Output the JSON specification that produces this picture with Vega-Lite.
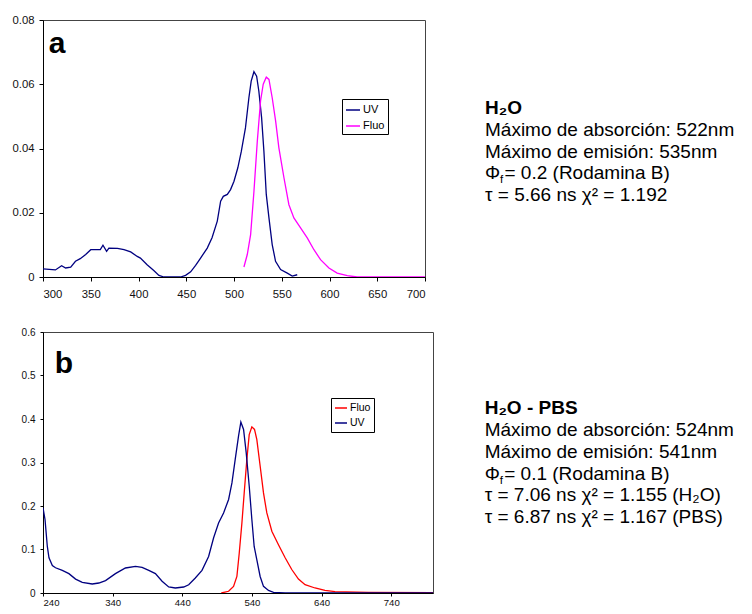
{
  "$schema": "https://vega.github.io/schema/vega-lite/v6.json",
  "background": "white",
  "padding": {"left": 11, "top": 13, "right": 0, "bottom": 0},
  "config": {
    "font": "Liberation Sans",
    "view": {"stroke": "#444"},
    "axis": {"grid": false, "domainColor": "black", "tickColor": "black", "labelColor": "#111", "labelFont": "Liberation Sans", "title": null}
  },
  "datasets": {
    "specA": [
      {"nm": 300, "v": 0.0025, "s": "UV"}, {"nm": 313, "v": 0.0022, "s": "UV"}, {"nm": 319.5, "v": 0.0035, "s": "UV"}, {"nm": 323.7, "v": 0.0028, "s": "UV"},
      {"nm": 329, "v": 0.0031, "s": "UV"}, {"nm": 334, "v": 0.0049, "s": "UV"}, {"nm": 339, "v": 0.0057, "s": "UV"}, {"nm": 344.7, "v": 0.007, "s": "UV"},
      {"nm": 350, "v": 0.0085, "s": "UV"}, {"nm": 360, "v": 0.0085, "s": "UV"}, {"nm": 362.8, "v": 0.0099, "s": "UV"}, {"nm": 366.6, "v": 0.008, "s": "UV"},
      {"nm": 369, "v": 0.009, "s": "UV"}, {"nm": 378, "v": 0.0089, "s": "UV"}, {"nm": 384.8, "v": 0.0085, "s": "UV"}, {"nm": 391.8, "v": 0.0078, "s": "UV"},
      {"nm": 398.7, "v": 0.0064, "s": "UV"}, {"nm": 402, "v": 0.0059, "s": "UV"}, {"nm": 409, "v": 0.0038, "s": "UV"}, {"nm": 416, "v": 0.002, "s": "UV"},
      {"nm": 421.4, "v": 0.0005, "s": "UV"}, {"nm": 426.7, "v": 0, "s": "UV"}, {"nm": 433.6, "v": 0, "s": "UV"}, {"nm": 444, "v": 0, "s": "UV"},
      {"nm": 449.3, "v": 0.0005, "s": "UV"}, {"nm": 454.6, "v": 0.0016, "s": "UV"}, {"nm": 459.8, "v": 0.0036, "s": "UV"}, {"nm": 465, "v": 0.0059, "s": "UV"},
      {"nm": 472, "v": 0.009, "s": "UV"}, {"nm": 477, "v": 0.0122, "s": "UV"}, {"nm": 482.5, "v": 0.0174, "s": "UV"}, {"nm": 486, "v": 0.0236, "s": "UV"},
      {"nm": 488.8, "v": 0.0251, "s": "UV"}, {"nm": 493, "v": 0.0257, "s": "UV"}, {"nm": 496.4, "v": 0.0272, "s": "UV"}, {"nm": 500, "v": 0.0298, "s": "UV"},
      {"nm": 504, "v": 0.034, "s": "UV"}, {"nm": 507.6, "v": 0.039, "s": "UV"}, {"nm": 512, "v": 0.0464, "s": "UV"}, {"nm": 515.6, "v": 0.0558, "s": "UV"},
      {"nm": 518, "v": 0.061, "s": "UV"}, {"nm": 520.9, "v": 0.0639, "s": "UV"}, {"nm": 523.7, "v": 0.0625, "s": "UV"}, {"nm": 526, "v": 0.0579, "s": "UV"},
      {"nm": 528.9, "v": 0.0496, "s": "UV"}, {"nm": 531.3, "v": 0.0392, "s": "UV"}, {"nm": 533.8, "v": 0.0257, "s": "UV"}, {"nm": 536.6, "v": 0.0184, "s": "UV"},
      {"nm": 540, "v": 0.0101, "s": "UV"}, {"nm": 543.5, "v": 0.0049, "s": "UV"}, {"nm": 548.8, "v": 0.0023, "s": "UV"}, {"nm": 555.8, "v": 0.0012, "s": "UV"},
      {"nm": 561, "v": 0.0003, "s": "UV"}, {"nm": 566.2, "v": 0.0007, "s": "UV"},
      {"nm": 510.4, "v": 0.0031, "s": "Fluo"}, {"nm": 513.9, "v": 0.007, "s": "Fluo"}, {"nm": 517.4, "v": 0.0132, "s": "Fluo"}, {"nm": 520.9, "v": 0.0267, "s": "Fluo"},
      {"nm": 524.4, "v": 0.0423, "s": "Fluo"}, {"nm": 527.8, "v": 0.0548, "s": "Fluo"}, {"nm": 530.6, "v": 0.06, "s": "Fluo"}, {"nm": 533.8, "v": 0.0622, "s": "Fluo"},
      {"nm": 536.6, "v": 0.0615, "s": "Fluo"}, {"nm": 540, "v": 0.0558, "s": "Fluo"}, {"nm": 543.6, "v": 0.0485, "s": "Fluo"}, {"nm": 547, "v": 0.0402, "s": "Fluo"},
      {"nm": 552.3, "v": 0.0309, "s": "Fluo"}, {"nm": 557.5, "v": 0.0225, "s": "Fluo"}, {"nm": 562.7, "v": 0.0184, "s": "Fluo"}, {"nm": 569.7, "v": 0.0153, "s": "Fluo"},
      {"nm": 576.7, "v": 0.0122, "s": "Fluo"}, {"nm": 583.7, "v": 0.0085, "s": "Fluo"}, {"nm": 590.6, "v": 0.0054, "s": "Fluo"}, {"nm": 599.4, "v": 0.0028, "s": "Fluo"},
      {"nm": 608, "v": 0.0012, "s": "Fluo"}, {"nm": 618.6, "v": 0.0004, "s": "Fluo"}, {"nm": 629, "v": 0, "s": "Fluo"}, {"nm": 700, "v": 0, "s": "Fluo"}
    ],
    "specB": [
      {"nm": 496, "v": 0, "s": "Fluo"}, {"nm": 506.5, "v": 0.004, "s": "Fluo"}, {"nm": 513.6, "v": 0.0153, "s": "Fluo"}, {"nm": 518.4, "v": 0.038, "s": "Fluo"},
      {"nm": 521.8, "v": 0.092, "s": "Fluo"}, {"nm": 525.6, "v": 0.161, "s": "Fluo"}, {"nm": 528.9, "v": 0.23, "s": "Fluo"}, {"nm": 532.7, "v": 0.307, "s": "Fluo"},
      {"nm": 536.1, "v": 0.364, "s": "Fluo"}, {"nm": 539.9, "v": 0.382, "s": "Fluo"}, {"nm": 543.7, "v": 0.376, "s": "Fluo"}, {"nm": 547, "v": 0.353, "s": "Fluo"},
      {"nm": 551.8, "v": 0.292, "s": "Fluo"}, {"nm": 556.6, "v": 0.23, "s": "Fluo"}, {"nm": 561.4, "v": 0.184, "s": "Fluo"}, {"nm": 568.6, "v": 0.142, "s": "Fluo"},
      {"nm": 578.1, "v": 0.111, "s": "Fluo"}, {"nm": 587.7, "v": 0.081, "s": "Fluo"}, {"nm": 597.2, "v": 0.054, "s": "Fluo"}, {"nm": 606.8, "v": 0.032, "s": "Fluo"},
      {"nm": 616.3, "v": 0.019, "s": "Fluo"}, {"nm": 630.6, "v": 0.0115, "s": "Fluo"}, {"nm": 644.9, "v": 0.006, "s": "Fluo"}, {"nm": 659.3, "v": 0.003, "s": "Fluo"},
      {"nm": 707, "v": 0.0015, "s": "Fluo"}, {"nm": 800, "v": 0.001, "s": "Fluo"},
      {"nm": 240, "v": 0.196, "s": "UV"}, {"nm": 242.9, "v": 0.169, "s": "UV"}, {"nm": 246.2, "v": 0.107, "s": "UV"}, {"nm": 248.6, "v": 0.081, "s": "UV"},
      {"nm": 253.4, "v": 0.063, "s": "UV"}, {"nm": 258, "v": 0.058, "s": "UV"}, {"nm": 267.7, "v": 0.052, "s": "UV"}, {"nm": 277.2, "v": 0.0445, "s": "UV"},
      {"nm": 286.8, "v": 0.032, "s": "UV"}, {"nm": 296.4, "v": 0.0245, "s": "UV"}, {"nm": 310.7, "v": 0.0207, "s": "UV"}, {"nm": 320.2, "v": 0.023, "s": "UV"},
      {"nm": 329.8, "v": 0.0284, "s": "UV"}, {"nm": 344, "v": 0.0445, "s": "UV"}, {"nm": 358.4, "v": 0.0575, "s": "UV"}, {"nm": 372.8, "v": 0.061, "s": "UV"},
      {"nm": 382.3, "v": 0.059, "s": "UV"}, {"nm": 391.9, "v": 0.052, "s": "UV"}, {"nm": 401.4, "v": 0.0445, "s": "UV"}, {"nm": 411, "v": 0.027, "s": "UV"},
      {"nm": 420.5, "v": 0.0138, "s": "UV"}, {"nm": 430, "v": 0.0115, "s": "UV"}, {"nm": 442, "v": 0.0138, "s": "UV"}, {"nm": 449.2, "v": 0.019, "s": "UV"},
      {"nm": 458.7, "v": 0.0345, "s": "UV"}, {"nm": 468.3, "v": 0.052, "s": "UV"}, {"nm": 477.8, "v": 0.084, "s": "UV"}, {"nm": 485, "v": 0.127, "s": "UV"},
      {"nm": 492.1, "v": 0.161, "s": "UV"}, {"nm": 499.3, "v": 0.184, "s": "UV"}, {"nm": 506.5, "v": 0.215, "s": "UV"}, {"nm": 511.3, "v": 0.253, "s": "UV"},
      {"nm": 516, "v": 0.307, "s": "UV"}, {"nm": 520.8, "v": 0.361, "s": "UV"}, {"nm": 524.1, "v": 0.393, "s": "UV"}, {"nm": 528, "v": 0.376, "s": "UV"},
      {"nm": 531.8, "v": 0.322, "s": "UV"}, {"nm": 536.1, "v": 0.246, "s": "UV"}, {"nm": 539.9, "v": 0.169, "s": "UV"}, {"nm": 543.2, "v": 0.107, "s": "UV"},
      {"nm": 547, "v": 0.077, "s": "UV"}, {"nm": 551.8, "v": 0.038, "s": "UV"}, {"nm": 556.6, "v": 0.0153, "s": "UV"}, {"nm": 563.8, "v": 0.006, "s": "UV"},
      {"nm": 571, "v": 0.0015, "s": "UV"}, {"nm": 587.7, "v": 0, "s": "UV"}, {"nm": 800, "v": 0, "s": "UV"}
    ],
    "txtA": [
      {"line": 0, "text": "H₂O"},
      {"line": 1, "text": "Máximo de absorción: 522nm"},
      {"line": 2, "text": "Máximo de emisión: 535nm"},
      {"line": 3, "sym": "Φ", "sub": "f", "text": "= 0.2 (Rodamina B)"},
      {"line": 4, "text": "τ = 5.66 ns χ² = 1.192"}
    ],
    "txtB": [
      {"line": 0, "text": "H₂O - PBS"},
      {"line": 1, "text": "Máximo de absorción: 524nm"},
      {"line": 2, "text": "Máximo de emisión: 541nm"},
      {"line": 3, "sym": "Φ", "sub": "f", "text": "= 0.1 (Rodamina B)"},
      {"line": 4, "text": "τ = 7.06 ns χ² = 1.155 (H₂O)"},
      {"line": 5, "text": "τ = 6.87 ns χ² = 1.167 (PBS)"}
    ]
  },
  "resolve": {"scale": {"color": "independent"}, "legend": {"color": "independent"}},
  "spacing": 26,
  "vconcat": [
    {
      "spacing": 59,
      "resolve": {"scale": {"color": "independent", "y": "independent"}, "legend": {"color": "independent"}},
      "hconcat": [
        {
          "width": 382,
          "height": 257,
          "layer": [
            {
              "data": {"name": "specA"},
              "mark": {"type": "line", "strokeWidth": 1.3, "clip": true},
              "encoding": {
                "x": {"field": "nm", "type": "quantitative", "scale": {"domain": [300, 700], "nice": false, "zero": false},
                      "axis": {"values": [300, 350, 400, 450, 500, 550, 600, 650, 700], "tickSize": 4, "labelPadding": 7, "labelFontSize": 11.3}},
                "y": {"field": "v", "type": "quantitative", "scale": {"domain": [0, 0.08], "nice": false},
                      "axis": {"values": [0, 0.02, 0.04, 0.06, 0.08], "format": "~g", "tickSize": 4, "labelPadding": 5, "labelFontSize": 11.3}},
                "color": {"field": "s", "type": "nominal", "scale": {"domain": ["UV", "Fluo"], "range": ["#000080", "#ff00ff"]},
                          "legend": {"orient": "none", "legendX": 299, "legendY": 79, "title": null, "strokeColor": "black", "fillColor": "white",
                                     "padding": 3, "symbolType": "stroke", "symbolSize": 196, "symbolStrokeWidth": 1.5, "labelFontSize": 11,
                                     "labelOffset": 2, "rowPadding": 3, "labelColor": "black"}}
              }
            },
            {
              "data": {"values": [{"label": "a"}]},
              "mark": {"type": "text", "fontSize": 30, "fontWeight": "bold", "align": "left", "baseline": "alphabetic", "color": "black"},
              "encoding": {"x": {"datum": 306}, "y": {"datum": 0.0697}, "text": {"field": "label"}}
            }
          ]
        },
        {
          "width": 265,
          "height": 257,
          "view": {"stroke": null},
          "data": {"name": "txtA"},
          "encoding": {
            "x": {"datum": 0, "type": "quantitative", "scale": {"domain": [0, 1]}, "axis": null},
            "y": {"field": "line", "type": "quantitative", "scale": {"domain": [-4.35, 7.5], "reverse": true, "nice": false, "zero": false}, "axis": null},
            "text": {"field": "text"}
          },
          "layer": [
            {
              "transform": [{"filter": "datum.line === 0"}],
              "mark": {"type": "text", "align": "left", "baseline": "alphabetic", "fontSize": 19, "fontWeight": "bold", "color": "black"}
            },
            {
              "transform": [{"filter": "datum.line > 0 && datum.line !== 3"}],
              "mark": {"type": "text", "align": "left", "baseline": "alphabetic", "fontSize": 19, "color": "black"}
            },
            {
              "transform": [{"filter": "datum.line === 3"}],
              "mark": {"type": "text", "align": "left", "baseline": "alphabetic", "fontSize": 19, "color": "black"},
              "encoding": {"text": {"field": "sym"}}
            },
            {
              "transform": [{"filter": "datum.line === 3"}],
              "mark": {"type": "text", "align": "left", "baseline": "alphabetic", "fontSize": 11.5, "dx": 15, "dy": 4, "color": "black"},
              "encoding": {"text": {"field": "sub"}}
            },
            {
              "transform": [{"filter": "datum.line === 3"}],
              "mark": {"type": "text", "align": "left", "baseline": "alphabetic", "fontSize": 19, "dx": 19.5, "color": "black"}
            }
          ]
        }
      ]
    },
    {
      "spacing": 50.7,
      "resolve": {"scale": {"color": "independent", "y": "independent"}, "legend": {"color": "independent"}},
      "hconcat": [
        {
          "width": 390,
          "height": 261,
          "layer": [
            {
              "data": {"name": "specB"},
              "mark": {"type": "line", "strokeWidth": 1.3, "clip": true},
              "encoding": {
                "x": {"field": "nm", "type": "quantitative", "scale": {"domain": [240, 800], "nice": false, "zero": false},
                      "axis": {"values": [240, 340, 440, 540, 640, 740], "tickSize": 3, "labelPadding": 1, "labelFontSize": 9.6}},
                "y": {"field": "v", "type": "quantitative", "scale": {"domain": [0, 0.6], "nice": false},
                      "axis": {"values": [0, 0.1, 0.2, 0.3, 0.4, 0.5, 0.6], "format": "~g", "tickSize": 3, "labelPadding": 5, "labelFontSize": 10}},
                "color": {"field": "s", "type": "nominal", "scale": {"domain": ["Fluo", "UV"], "range": ["#ff0000", "#000080"]},
                          "legend": {"orient": "none", "legendX": 288, "legendY": 66, "title": null, "strokeColor": "black", "fillColor": "white",
                                     "padding": 3, "symbolType": "stroke", "symbolSize": 144, "symbolStrokeWidth": 1.5, "labelFontSize": 10.5,
                                     "labelOffset": 2, "rowPadding": 2, "labelColor": "black"}}
              }
            },
            {
              "data": {"values": [{"label": "b"}]},
              "mark": {"type": "text", "fontSize": 30, "fontWeight": "bold", "align": "left", "baseline": "alphabetic", "color": "black"},
              "encoding": {"x": {"datum": 257}, "y": {"datum": 0.506}, "text": {"field": "label"}}
            }
          ]
        },
        {
          "width": 265,
          "height": 261,
          "view": {"stroke": null},
          "data": {"name": "txtB"},
          "encoding": {
            "x": {"datum": 0, "type": "quantitative", "scale": {"domain": [0, 1]}, "axis": null},
            "y": {"field": "line", "type": "quantitative", "scale": {"domain": [-3.735, 8.18], "reverse": true, "nice": false, "zero": false}, "axis": null},
            "text": {"field": "text"}
          },
          "layer": [
            {
              "transform": [{"filter": "datum.line === 0"}],
              "mark": {"type": "text", "align": "left", "baseline": "alphabetic", "fontSize": 19, "fontWeight": "bold", "color": "black"}
            },
            {
              "transform": [{"filter": "datum.line > 0 && datum.line !== 3"}],
              "mark": {"type": "text", "align": "left", "baseline": "alphabetic", "fontSize": 19, "color": "black"}
            },
            {
              "transform": [{"filter": "datum.line === 3"}],
              "mark": {"type": "text", "align": "left", "baseline": "alphabetic", "fontSize": 19, "color": "black"},
              "encoding": {"text": {"field": "sym"}}
            },
            {
              "transform": [{"filter": "datum.line === 3"}],
              "mark": {"type": "text", "align": "left", "baseline": "alphabetic", "fontSize": 11.5, "dx": 15, "dy": 4, "color": "black"},
              "encoding": {"text": {"field": "sub"}}
            },
            {
              "transform": [{"filter": "datum.line === 3"}],
              "mark": {"type": "text", "align": "left", "baseline": "alphabetic", "fontSize": 19, "dx": 19.5, "color": "black"}
            }
          ]
        }
      ]
    }
  ]
}
